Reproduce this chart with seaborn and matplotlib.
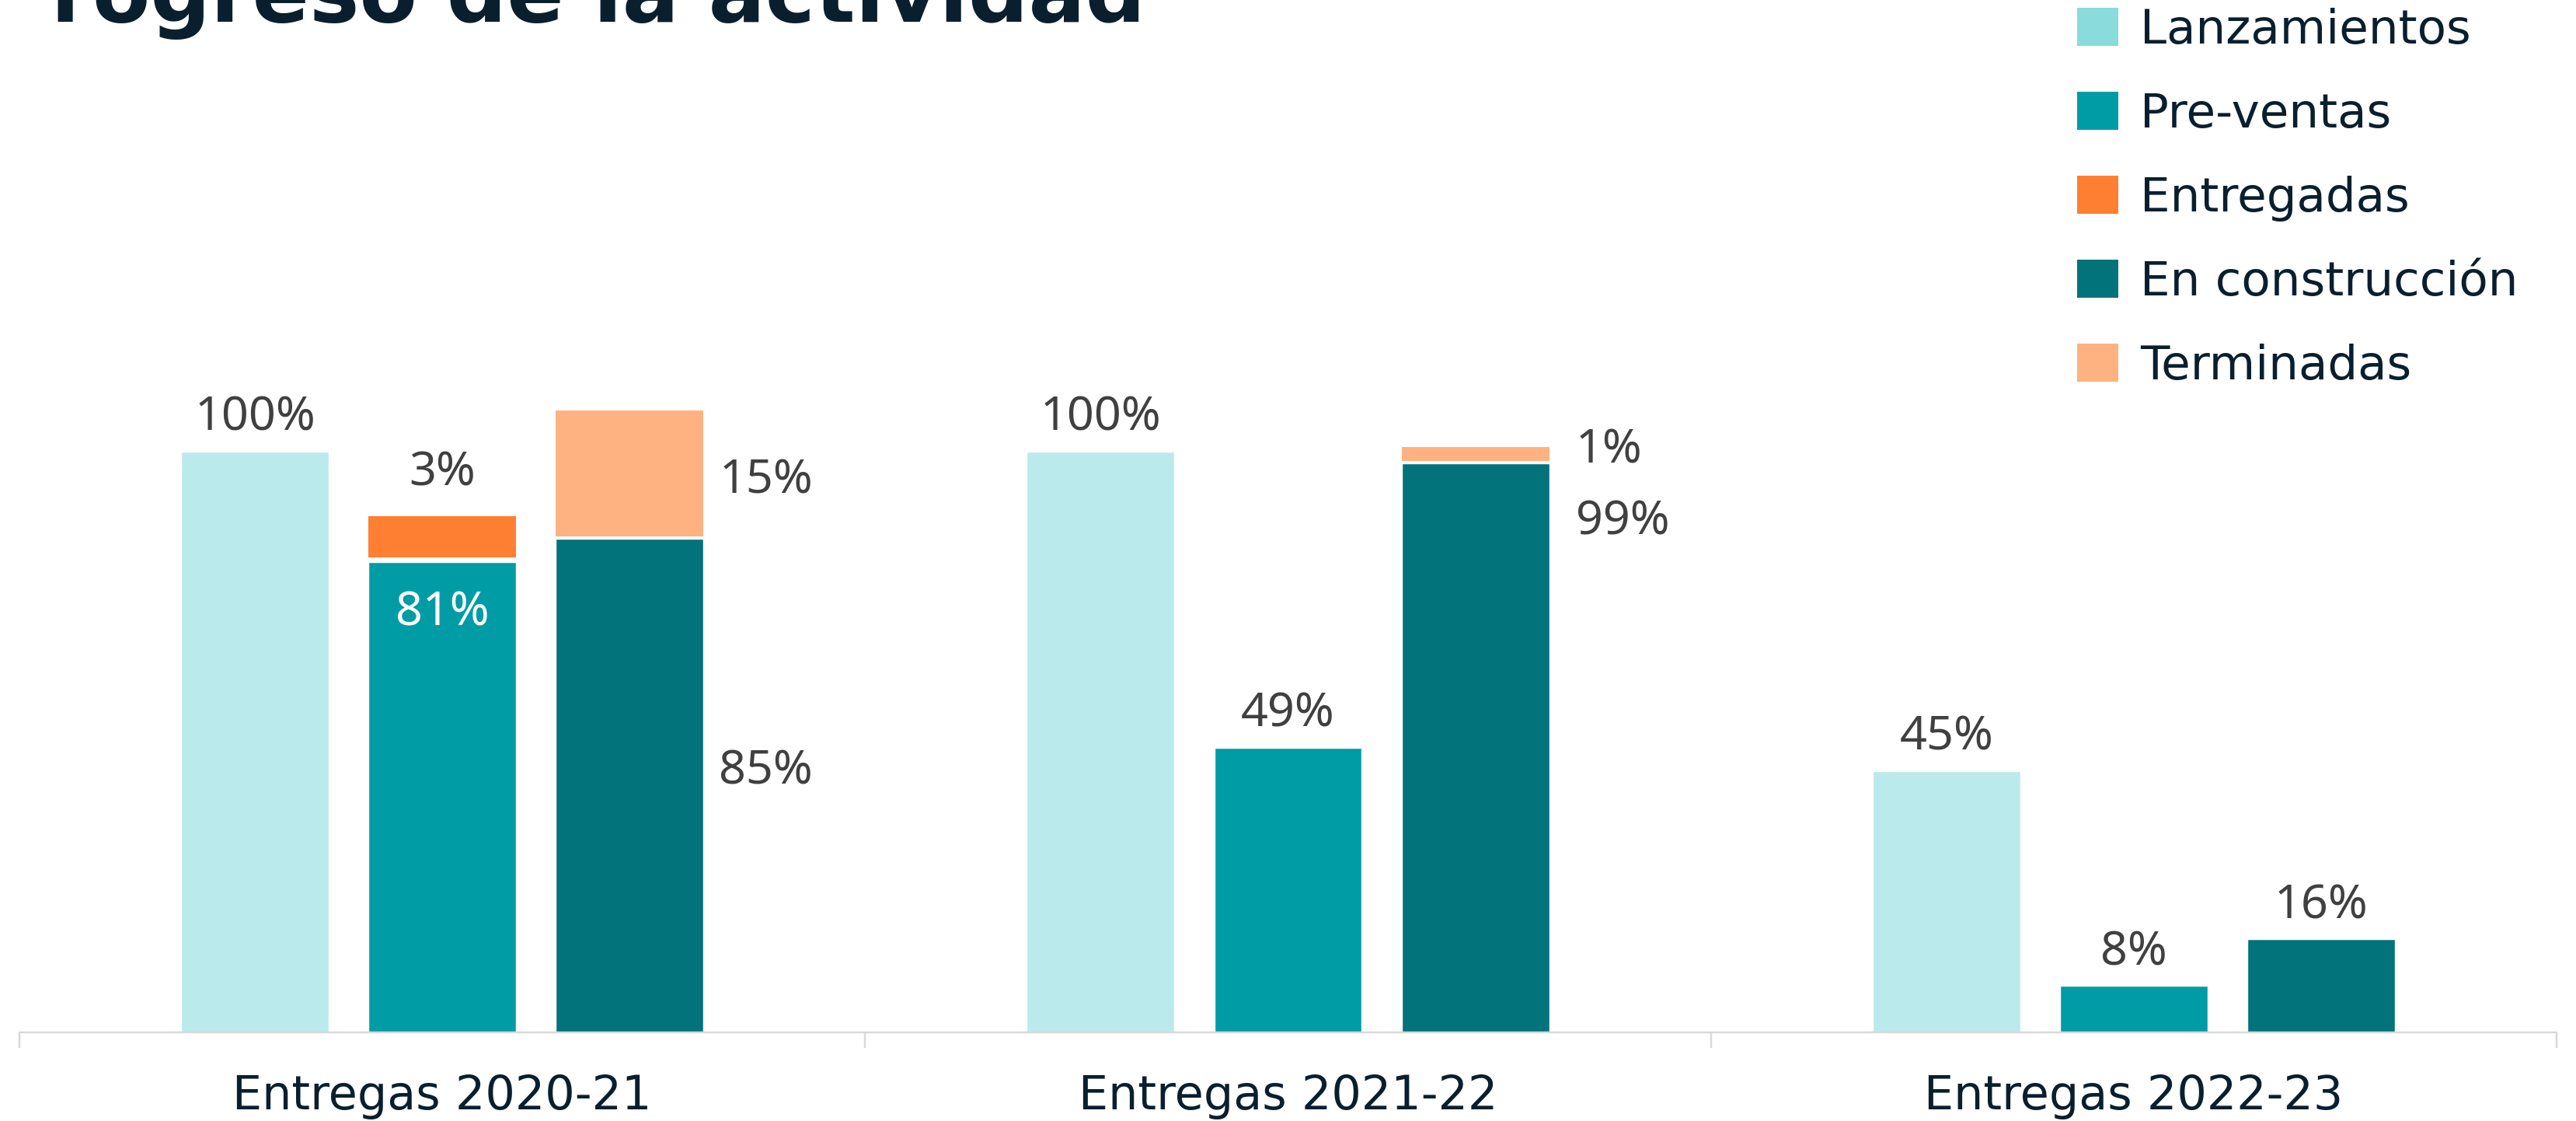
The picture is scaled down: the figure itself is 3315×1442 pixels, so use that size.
import numpy as np
import pandas as pd
import matplotlib
matplotlib.use("Agg")
import matplotlib.pyplot as plt
import seaborn as sns
from matplotlib.patches import Patch

# ---------------- data ----------------
categorias = ['Entregas 2020-21', 'Entregas 2021-22', 'Entregas 2022-23']
series = ['Lanzamientos', 'Pre-ventas', 'En construcción']
lanzamientos = [100, 100, 45]
preventas = [81, 49, 8]
construccion = [85, 98, 16]
entregadas = [7.1, 0, 0]      # drawn height stacked on Pre-ventas
terminadas = [21.7, 2.4, 0]   # drawn height stacked on En construcción
txt_lanz = ['100%', '100%', '45%']
txt_pre = ['81%', '49%', '8%']
txt_cons = ['85%', '99%', '16%']
txt_ent = ['3%', '', '']
txt_term = ['15%', '1%', '']
leyenda = ['Lanzamientos', 'Pre-ventas', 'Entregadas', 'En construcción', 'Terminadas']
titulo = 'Progreso de la actividad'

# ---------------- style ----------------
W, H = 3315, 1442
C_LANZ_BAR = '#BAEAEB'
C_LANZ = '#89DBDC'
C_PRE = '#009CA6'
C_ENT = '#FF7F32'
C_CONS = '#02737B'
C_TERM = '#FFB281'
NAVY = '#0A1F2E'
GREY_TXT = '#404040'
AX_GREY = '#D9D9D9'
PT = 0.72  # points per pixel at dpi 100

sns.set_style('white')
plt.rcParams['font.family'] = ['Noto Sans', 'DejaVu Sans']

fig = plt.figure(figsize=(W / 100, H / 100), dpi=100)
ax = fig.add_axes([25 / W, 114 / H, (3290 - 25) / W, 1 - 114 / H])

df = pd.DataFrame({
    'categoria': categorias * 3,
    'serie': np.repeat(series, len(categorias)),
    'valor': lanzamientos + preventas + construccion,
})
slot = 0.2215
gap = 0.212
sns.barplot(data=df, x='categoria', y='valor', hue='serie', order=categorias,
            hue_order=series, palette=[C_LANZ_BAR, C_PRE, C_CONS],
            width=3 * slot, gap=gap, saturation=1, errorbar=None,
            legend=False, ax=ax)
bw = slot * (1 - gap)
xs = np.arange(len(categorias))

SEP_ENT, SEP_TERM = 0.8, 0.4
ax.bar(xs, entregadas, width=bw, bottom=np.array(preventas) + SEP_ENT,
       color=C_ENT, linewidth=0)
ax.bar(xs + slot, terminadas, width=bw, bottom=np.array(construccion) + SEP_TERM,
       color=C_TERM, linewidth=0)

ax.set_xlim(-0.5, len(categorias) - 0.5)
ax.set_ylim(0, 1328 / 7.47)
ax.set_xlabel('')
ax.set_ylabel('')
ax.set_yticks([])
for s in ['left', 'right', 'top']:
    ax.spines[s].set_visible(False)
ax.spines['bottom'].set_color(AX_GREY)
ax.spines['bottom'].set_linewidth(2.5 * PT)
ax.set_xticks(xs)
ax.set_xticklabels(categorias, fontsize=43.5, color=NAVY, family='DejaVu Sans')
ax.tick_params(axis='x', which='major', length=0, pad=53 * PT, bottom=True)
ax.set_xticks(np.arange(len(categorias) + 1) - 0.5, minor=True)
ax.tick_params(axis='x', which='minor', length=20 * PT, width=2.5 * PT,
               color=AX_GREY, direction='out', bottom=True)

above = 27 * PT

def top_label(x, y, t, off=above, color=GREY_TXT):
    ax.annotate(t, (x, y), xytext=(0, off), textcoords='offset points',
                ha='center', va='baseline', fontsize=44, family='Noto Sans',
                color=color)

def side_label(x, y, t, offpx):
    ax.annotate(t, (x, y), xytext=(offpx * PT, 0), textcoords='offset points',
                ha='left', va='baseline', fontsize=44, family='Noto Sans',
                color=GREY_TXT)

# label layout (baselines in data units, horizontal offsets in px)
side_cons_y = [42.8, 85.7]
side_term_y = [92.8, 98.1]
side_off = [20, 34]

for i in xs:
    top_label(i - slot, lanzamientos[i], txt_lanz[i])
    if entregadas[i] > 0:
        top_label(i, preventas[i], txt_pre[i], off=-82 * PT, color='white')
        top_label(i, preventas[i] + SEP_ENT + entregadas[i], txt_ent[i], off=39 * PT)
    else:
        top_label(i, preventas[i], txt_pre[i])
    if terminadas[i] > 0:
        xr = i + slot + bw / 2
        side_label(xr, side_cons_y[i], txt_cons[i], side_off[i])
        side_label(xr, side_term_y[i], txt_term[i], side_off[i])
    else:
        top_label(i + slot, construccion[i], txt_cons[i])

# legend
handles = [Patch(facecolor=c, edgecolor='none')
           for c in [C_LANZ, C_PRE, C_ENT, C_CONS, C_TERM]]
fig.legend(handles, leyenda, loc='upper left',
           bbox_to_anchor=(2673 / W, 1 - 10 / H), bbox_transform=fig.transFigure,
           frameon=False, prop={'family': 'DejaVu Sans', 'size': 44},
           labelcolor=NAVY, handlelength=0.87, handleheight=0.85,
           handletextpad=0.46, labelspacing=0.8, borderpad=0, borderaxespad=0)

# title (clipped at the left like the reference)
ax_t = fig.add_axes([43 / W, 0, 1 - 43 / W, 1])
ax_t.set_xlim(43, W)
ax_t.set_ylim(0, H)
ax_t.axis('off')
ax_t.patch.set_alpha(0)
ax_t.text(1474, H - 28, titulo, ha='right', va='baseline', fontsize=78,
          fontweight='bold', family='DejaVu Sans', color=NAVY, clip_on=True)

fig.savefig('out.png', dpi=100)
